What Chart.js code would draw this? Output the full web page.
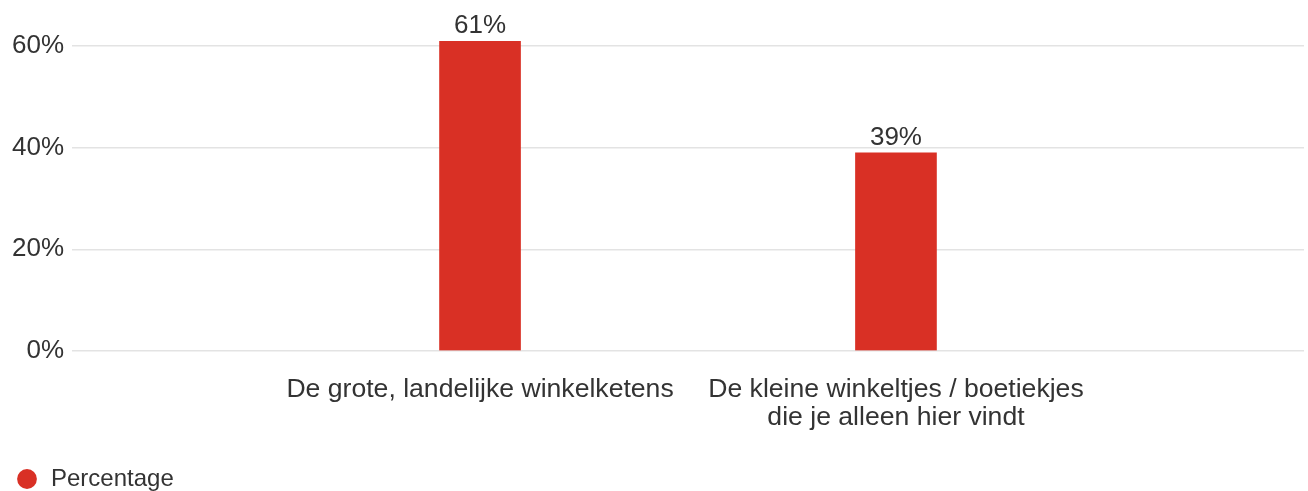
<!DOCTYPE html>
<html>
<head>
<meta charset="utf-8">
<script src="https://cdn.jsdelivr.net/npm/chart.js@4.4.1/dist/chart.umd.min.js"></script>
<style>
  body { margin: 0; background: #fff; }
  #wrap { width: 1308px; height: 491px; }
</style>
</head>
<body>
<div id="wrap"><canvas id="myChart" width="1308" height="491"></canvas></div>
<script>
// Chart data
const categories = [
    "De grote, landelijke winkelketens",
    ["De kleine winkeltjes / boetiekjes", "die je alleen hier vindt"]
];
const percentages = [61, 39];
const yTicks = [0, 20, 40, 60];
const seriesName = "Percentage";

const textColor = "#333333";
const barColor = "#d93025";
const fontFamily = "'Liberation Sans', Arial, sans-serif";

// Draw the value above each bar
const valueLabels = {
    id: "valueLabels",
    afterDatasetsDraw(chart) {
        const ctx = chart.ctx;
        const meta = chart.getDatasetMeta(0);
        ctx.save();
        ctx.font = "26px " + fontFamily;
        ctx.fillStyle = textColor;
        ctx.textAlign = "center";
        ctx.textBaseline = "alphabetic";
        meta.data.forEach(function (bar, i) {
            ctx.fillText(percentages[i] + "%", bar.x, bar.y - 8);
        });
        ctx.restore();
    }
};

let ctx = document.getElementById("myChart").getContext("2d");
let myChart = new Chart(ctx, {
    type: "bar",
    data: {
        datasets: [{
            label: seriesName,
            data: percentages.map(function (v, i) { return { x: i, y: v }; }),
            backgroundColor: barColor,
            borderWidth: 0,
            barThickness: 81
        }]
    },
    options: {
        responsive: false,
        animation: false,
        layout: { padding: { top: 41, right: 4, left: 5, bottom: -10 } },
        scales: {
            x: {
                type: "linear",
                offset: false,
                min: -0.981,
                max: 1.981,
                grid: { display: false },
                border: { display: false },
                afterBuildTicks: function (scale) {
                    scale.ticks = categories.map(function (c, i) { return { value: i }; });
                },
                ticks: {
                    color: textColor,
                    font: { family: fontFamily, size: 26.6, lineHeight: 1.055 },
                    padding: 17,
                    maxRotation: 0,
                    autoSkip: false,
                    callback: function (value) { return categories[value]; }
                }
            },
            y: {
                min: 0,
                max: 61,
                afterBuildTicks: function (scale) {
                    scale.ticks = yTicks.map(function (v) { return { value: v }; });
                },
                afterFit: function (scale) { scale.width = 67; },
                grid: { color: "#e3e3e3", lineWidth: 1.5, drawTicks: false },
                border: { display: false },
                ticks: {
                    color: textColor,
                    font: { family: fontFamily, size: 26 },
                    padding: 8,
                    callback: function (value) { return value + "%"; }
                }
            }
        },
        plugins: {
            legend: {
                position: "bottom",
                align: "start",
                // empty title used only as spacing above the legend item
                title: { display: true, text: "", font: { size: 8, lineHeight: 1 }, padding: 0 },
                labels: {
                    usePointStyle: true,
                    pointStyle: "circle",
                    boxWidth: 24,
                    boxHeight: 14,
                    padding: 10,
                    color: textColor,
                    font: { family: fontFamily, size: 24 }
                }
            },
            tooltip: { enabled: false }
        }
    },
    plugins: [valueLabels]
});
</script>
</body>
</html>
